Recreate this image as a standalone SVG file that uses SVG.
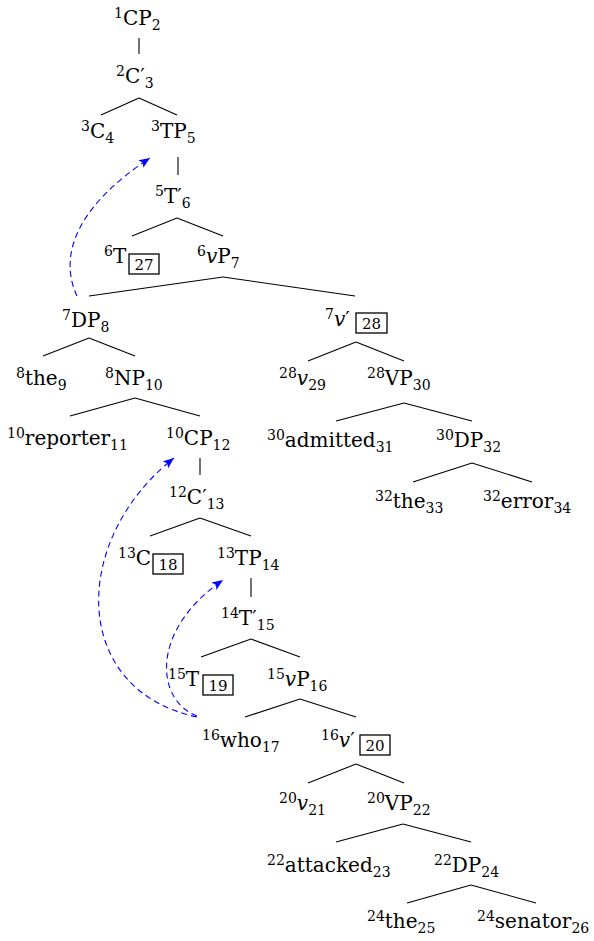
<svg xmlns="http://www.w3.org/2000/svg" width="594" height="941" viewBox="0 0 594 941">
<style>
  text { font-family: "DejaVu Serif", "Liberation Serif", serif; font-size: 20px; fill: #000; }
  .s { font-size: 14px; }
  .i { font-style: italic; }
  .box { fill: none; stroke: #000; stroke-width: 1.3; }
  .bn { font-size: 15px; text-anchor: middle; }
  .edges line { stroke: #000; stroke-width: 1.1; }
  .mv { fill: none; stroke: #0000ff; stroke-width: 1.1; stroke-dasharray: 6 4; marker-end: url(#ah); }
</style>
<defs>
  <marker id="ah" markerUnits="userSpaceOnUse" markerWidth="12" markerHeight="9" refX="11" refY="4.5" orient="auto" viewBox="0 0 12 9">
    <path d="M0,0 L11,4.5 L0,9 L2.5,4.5 z" fill="#0000ff"/>
  </marker>
</defs>
<rect width="594" height="941" fill="#fff"/>

<g id="edges" class="edges">
  <line x1="139" y1="38" x2="139" y2="54"/>
  <line x1="139" y1="98" x2="101" y2="115"/><line x1="139" y1="98" x2="177" y2="115"/>
  <line x1="178" y1="157" x2="178" y2="175"/>
  <line x1="177" y1="218" x2="132" y2="236"/><line x1="177" y1="218" x2="223" y2="236"/>
  <line x1="223" y1="277" x2="89" y2="296"/><line x1="223" y1="277" x2="355" y2="296"/>
  <line x1="89" y1="338" x2="43" y2="356"/><line x1="89" y1="338" x2="135" y2="356"/>
  <line x1="356" y1="342" x2="308" y2="361"/><line x1="356" y1="342" x2="404" y2="361"/>
  <line x1="135" y1="398" x2="70" y2="416"/><line x1="135" y1="398" x2="200" y2="416"/>
  <line x1="404" y1="403" x2="336" y2="421"/><line x1="404" y1="403" x2="472" y2="421"/>
  <line x1="200" y1="458" x2="200" y2="475"/>
  <line x1="472" y1="463" x2="413" y2="482"/><line x1="472" y1="463" x2="532" y2="482"/>
  <line x1="200" y1="518" x2="150" y2="536"/><line x1="200" y1="518" x2="251" y2="536"/>
  <line x1="251" y1="578" x2="251" y2="597"/>
  <line x1="251" y1="639" x2="201" y2="657"/><line x1="251" y1="639" x2="300" y2="657"/>
  <line x1="300" y1="699" x2="245" y2="717"/><line x1="300" y1="699" x2="356" y2="717"/>
  <line x1="356" y1="764" x2="308" y2="783"/><line x1="356" y1="764" x2="404" y2="783"/>
  <line x1="403" y1="824" x2="336" y2="842"/><line x1="403" y1="824" x2="471" y2="842"/>
  <line x1="471" y1="885" x2="407" y2="903"/><line x1="471" y1="885" x2="536" y2="903"/>
</g>

<g id="movement">
  <path class="mv" d="M77,296 C61,262 68,212 150,158"/>
  <path class="mv" d="M197,717 C70,690 70,540 174,458"/>
  <path class="mv" d="M197,716 C155,700 150,630 223,580"/>
</g>

<g id="n1"><text x="114" y="25"><tspan class="s" dy="-7">1</tspan><tspan dy="7">CP</tspan><tspan class="s" dy="5">2</tspan></text></g>
<g id="n2"><text x="116" y="83"><tspan class="s" dy="-7">2</tspan><tspan dy="7">C′</tspan><tspan class="s" dy="5">3</tspan></text></g>
<g id="n3"><text x="81" y="138"><tspan class="s" dy="-7">3</tspan><tspan dy="7">C</tspan><tspan class="s" dy="5">4</tspan></text></g>
<g id="n4"><text x="151" y="138"><tspan class="s" dy="-7">3</tspan><tspan dy="7">TP</tspan><tspan class="s" dy="5">5</tspan></text></g>
<g id="n5"><text x="155" y="203"><tspan class="s" dy="-7">5</tspan><tspan dy="7">T′</tspan><tspan class="s" dy="5">6</tspan></text></g>
<g id="n6"><text x="104" y="263"><tspan class="s" dy="-7">6</tspan><tspan dy="7">T</tspan></text>
  <rect class="box" x="129" y="254" width="30" height="20"/><text class="bn" x="144" y="269.5">27</text></g>
<g id="n7"><text x="197" y="263"><tspan class="s" dy="-7">6</tspan><tspan dy="7" class="i">v</tspan><tspan>P</tspan><tspan class="s" dy="5">7</tspan></text></g>
<g id="n8"><text x="62" y="327"><tspan class="s" dy="-7">7</tspan><tspan dy="7">DP</tspan><tspan class="s" dy="5">8</tspan></text></g>
<g id="n9"><text x="325" y="326"><tspan class="s" dy="-7">7</tspan><tspan dy="7" class="i">v</tspan><tspan>′</tspan></text>
  <rect class="box" x="356" y="313" width="31" height="20"/><text class="bn" x="371.5" y="328.5">28</text></g>
<g id="n10"><text x="16" y="385"><tspan class="s" dy="-7">8</tspan><tspan dy="7">the</tspan><tspan class="s" dy="5">9</tspan></text></g>
<g id="n11"><text x="105" y="385"><tspan class="s" dy="-7">8</tspan><tspan dy="7">NP</tspan><tspan class="s" dy="5">10</tspan></text></g>
<g id="n12"><text x="279" y="385"><tspan class="s" dy="-7">28</tspan><tspan dy="7" class="i">v</tspan><tspan class="s" dy="5">29</tspan></text></g>
<g id="n13"><text x="367" y="385"><tspan class="s" dy="-7">28</tspan><tspan dy="7">VP</tspan><tspan class="s" dy="5">30</tspan></text></g>
<g id="n14"><text x="7" y="445"><tspan class="s" dy="-7">10</tspan><tspan dy="7">reporter</tspan><tspan class="s" dy="5">11</tspan></text></g>
<g id="n15"><text x="166" y="445"><tspan class="s" dy="-7">10</tspan><tspan dy="7">CP</tspan><tspan class="s" dy="5">12</tspan></text></g>
<g id="n16"><text x="267" y="447"><tspan class="s" dy="-7">30</tspan><tspan dy="7">admitted</tspan><tspan class="s" dy="5">31</tspan></text></g>
<g id="n17"><text x="436" y="447"><tspan class="s" dy="-7">30</tspan><tspan dy="7">DP</tspan><tspan class="s" dy="5">32</tspan></text></g>
<g id="n18"><text x="169" y="504"><tspan class="s" dy="-7">12</tspan><tspan dy="7">C′</tspan><tspan class="s" dy="5">13</tspan></text></g>
<g id="n19"><text x="375" y="508"><tspan class="s" dy="-7">32</tspan><tspan dy="7">the</tspan><tspan class="s" dy="5">33</tspan></text></g>
<g id="n20"><text x="483" y="508"><tspan class="s" dy="-7">32</tspan><tspan dy="7">error</tspan><tspan class="s" dy="5">34</tspan></text></g>
<g id="n21"><text x="118" y="565"><tspan class="s" dy="-7">13</tspan><tspan dy="7">C</tspan></text>
  <rect class="box" x="153" y="554" width="30" height="20"/><text class="bn" x="168" y="569.5">18</text></g>
<g id="n22"><text x="217" y="565"><tspan class="s" dy="-7">13</tspan><tspan dy="7">TP</tspan><tspan class="s" dy="5">14</tspan></text></g>
<g id="n23"><text x="221" y="625"><tspan class="s" dy="-7">14</tspan><tspan dy="7">T′</tspan><tspan class="s" dy="5">15</tspan></text></g>
<g id="n24"><text x="168" y="686"><tspan class="s" dy="-7">15</tspan><tspan dy="7">T</tspan></text>
  <rect class="box" x="203" y="675" width="30" height="20"/><text class="bn" x="218" y="690.5">19</text></g>
<g id="n25"><text x="267" y="686"><tspan class="s" dy="-7">15</tspan><tspan dy="7" class="i">v</tspan><tspan>P</tspan><tspan class="s" dy="5">16</tspan></text></g>
<g id="n26"><text x="202" y="747"><tspan class="s" dy="-7">16</tspan><tspan dy="7">who</tspan><tspan class="s" dy="5">17</tspan></text></g>
<g id="n27"><text x="321" y="747"><tspan class="s" dy="-7">16</tspan><tspan dy="7" class="i">v</tspan><tspan>′</tspan></text>
  <rect class="box" x="360" y="735" width="30" height="20"/><text class="bn" x="375" y="750.5">20</text></g>
<g id="n28"><text x="279" y="810"><tspan class="s" dy="-7">20</tspan><tspan dy="7" class="i">v</tspan><tspan class="s" dy="5">21</tspan></text></g>
<g id="n29"><text x="367" y="810"><tspan class="s" dy="-7">20</tspan><tspan dy="7">VP</tspan><tspan class="s" dy="5">22</tspan></text></g>
<g id="n30"><text x="267" y="872"><tspan class="s" dy="-7">22</tspan><tspan dy="7">attacked</tspan><tspan class="s" dy="5">23</tspan></text></g>
<g id="n31"><text x="434" y="872"><tspan class="s" dy="-7">22</tspan><tspan dy="7">DP</tspan><tspan class="s" dy="5">24</tspan></text></g>
<g id="n32"><text x="367" y="928"><tspan class="s" dy="-7">24</tspan><tspan dy="7">the</tspan><tspan class="s" dy="5">25</tspan></text></g>
<g id="n33"><text x="477" y="928"><tspan class="s" dy="-7">24</tspan><tspan dy="7">senator</tspan><tspan class="s" dy="5">26</tspan></text></g>
</svg>
